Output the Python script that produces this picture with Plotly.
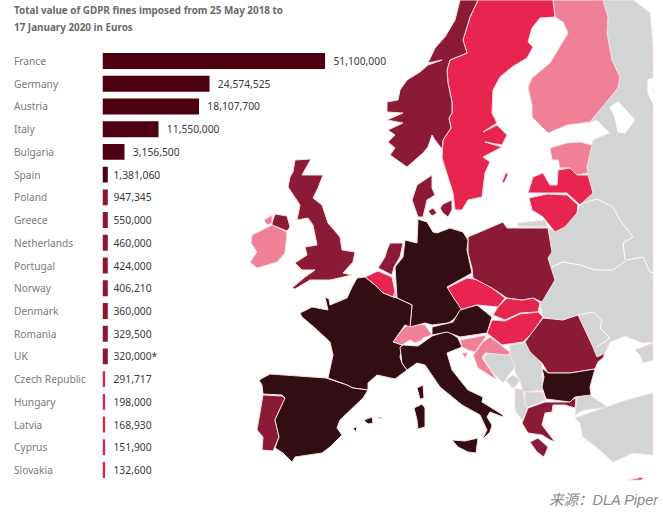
import plotly.graph_objects as go

# fines per country
countries = ["France", "Germany", "Austria", "Italy", "Bulgaria", "Spain", "Poland", "Greece",
             "Netherlands", "Portugal", "Norway", "Denmark", "Romania", "UK", "Czech Republic",
             "Hungary", "Latvia", "Cyprus", "Slovakia"]
fines = [51100000, 24574525, 18107700, 11550000, 3156500, 1381060, 947345, 550000,
         460000, 424000, 406210, 360000, 329500, 320000, 291717, 198000, 168930, 151900, 132600]
value_labels = ["51,100,000", "24,574,525", "18,107,700", "11,550,000", "3,156,500", "1,381,060",
                "947,345", "550,000", "460,000", "424,000", "406,210", "360,000", "329,500",
                "320,000*", "291,717", "198,000", "168,930", "151,900", "132,600"]
# the original's bars are not to scale with their labels: lengths as drawn, in the same euro units
drawn_fines = [51100000, 24574525, 22160000, 12860000, 5050000, 1217000, 1217000, 1217000,
               1217000, 1217000, 1217000, 1217000, 1217000, 1217000, 597000, 597000, 597000, 597000, 597000]

# country outlines (no topojson offline), in picture pixels
norway = [(460,0),(478,0),(470,17),(463,40),(467,53),(450,60),(447,70),(448,83),(452,102),(452,113),(449,118),(451,128),(443,140),(442,149),(435,140),(432,135),(428,147),(423,153),(407,167),(390,155),(395,148),(388,142),(395,135),(388,130),(403,123),(387,120),(403,113),(387,112),(387,102),(398,100),(400,90),(407,80),(420,72),(428,65),(442,60),(428,63),(435,48),(445,37),(455,20)]
sweden = [(478,0),(553,0),(555,17),(540,18),(532,28),(528,42),(533,47),(527,58),(512,67),(500,77),(493,90),(492,113),(497,123),(483,132),(497,125),(507,135),(502,145),(485,142),(502,147),(483,157),(490,162),(485,173),(482,197),(468,200),(462,210),(455,210),(453,193),(447,175),(442,158),(443,140),(451,128),(449,118),(452,113),(452,102),(448,83),(447,70),(450,60),(467,53),(463,40),(470,17)]
gotland = [(502,182),(506,172),(508,175),(504,183)]
finland = [(553,0),(603,0),(608,17),(607,33),(612,60),(620,77),(618,88),(600,110),(590,122),(567,125),(548,133),(532,117),(532,105),(528,87),(532,78),(550,63),(563,42),(568,33),(563,22),(555,17)]
estonia = [(550,148),(567,143),(580,142),(592,145),(587,167),(588,173),(577,175),(570,168),(560,168),(558,160),(552,160)]
latvia = [(528,193),(533,177),(543,173),(550,185),(557,185),(558,170),(570,168),(577,175),(588,175),(593,193),(580,205),(567,193),(547,193)]
lithuania = [(529,198),(547,194),(567,195),(578,205),(577,213),(565,227),(555,232),(543,217),(532,210)]
jutland = [(412,200),(417,185),(432,175),(432,188),(435,195),(427,200),(423,217),(418,217)]
zealand = [(440,208),(443,204),(452,200),(452,210),(448,217),(443,213)]
funen = [(428,211),(433,208),(437,213),(432,216)]
germany = [(418,219),(427,222),(433,232),(437,233),(450,228),(463,232),(468,240),(467,250),(472,273),(447,287),(455,300),(462,310),(453,320),(448,323),(432,325),(425,323),(410,327),(412,305),(397,298),(395,267),(403,257),(405,240),(417,243)]
netherlands = [(390,243),(403,243),(400,257),(394,267),(392,275),(378,268),(385,257),(387,250)]
belgium = [(365,277),(378,271),(392,277),(395,292),(393,297),(383,293),(375,285)]
luxembourg = [(392,292),(396,292),(396,297),(393,297)]
france = [(357,278),(365,277),(375,285),(383,293),(393,297),(397,298),(412,305),(410,327),(405,325),(393,342),(402,345),(400,357),(402,363),(407,370),(395,379),(377,375),(368,383),(368,390),(353,388),(347,385),(328,378),(333,355),(330,342),(315,328),(302,317),(300,313),(312,307),(328,310),(325,297),(329,299),(330,305),(347,298),(352,287)]
spain = [(259,380),(270,374),(326,378),(347,385),(353,388),(368,390),(363,398),(340,420),(337,428),(342,435),(330,447),(322,453),(295,457),(292,462),(283,453),(275,448),(279,437),(275,420),(285,398),(282,395),(263,394),(262,385)]
portugal = [(263,395),(282,396),(285,398),(275,420),(279,437),(273,451),(262,450),(263,437),(257,430)]
mallorca = [(364,420),(372,417),(373,423),(368,424)]
menorca = [(377,417),(381,417),(382,419),(378,418)]
ibiza = [(353,428),(357,427),(356,432)]
corsica = [(417,388),(423,385),(424,398),(420,399)]
sardinia = [(414,408),(422,404),(425,408),(425,427),(418,429),(417,420)]
sicily = [(452,440),(465,441),(478,438),(476,453),(468,452),(458,447)]
italy = [(400,347),(403,345),(418,346),(432,336),(448,331),(458,338),(462,347),(447,353),(452,370),(468,390),(483,397),(482,402),(503,415),(503,417),(490,412),(487,417),(492,425),(490,432),(482,440),(487,430),(480,415),(462,405),(440,387),(425,365),(417,363),(407,370),(402,363)]
switzerland = [(393,342),(402,330),(410,323),(425,325),(432,335),(423,338),(422,340),(415,343),(410,340),(402,345)]
austria = [(432,327),(453,322),(460,310),(477,305),(492,317),(487,333),(460,337),(447,332),(432,335)]
czechia = [(447,288),(467,278),(480,280),(492,288),(505,298),(498,307),(477,305),(460,310),(453,303)]
poland = [(468,237),(503,222),(507,228),(548,228),(552,252),(548,258),(555,280),(542,302),(533,298),(522,300),(507,298),(492,288),(473,278),(472,268),(468,253)]
slovakia = [(507,298),(522,300),(533,298),(540,303),(538,312),(520,313),(505,320),(493,315),(498,307)]
hungary = [(492,320),(505,321),(520,314),(538,312),(543,317),(533,332),(523,342),(502,345),(487,333)]
slovenia = [(460,340),(487,335),(482,342),(475,352),(468,350),(462,347)]
istria = [(462,353),(468,353),(465,358)]
croatia = [(475,353),(482,343),(490,337),(510,352),(508,355),(485,353),(482,358),(497,380),(478,368),(473,355)]
romania = [(525,342),(543,318),(563,320),(578,315),(593,347),(597,357),(605,353),(603,358),(598,362),(595,369),(570,373),(548,373),(542,363),(530,352)]
bulgaria = [(542,368),(548,373),(570,373),(595,369),(590,387),(591,395),(575,397),(570,402),(546,399),(542,387),(544,377)]
greece = [(528,408),(545,402),(567,402),(576,398),(575,408),(565,405),(553,405),(552,412),(545,413),(542,425),(555,442),(550,440),(542,435),(528,433),(522,423)]
peloponnese = [(530,442),(538,438),(548,447),(544,457),(537,452)]
cyprus = [(628,480),(643,477),(642,480)]
ireland = [(252,235),(265,228),(272,225),(287,232),(285,253),(277,262),(257,268),(250,262),(257,252),(251,243)]
donegal = [(264,220),(272,215),(272,223),(267,225)]
n_ireland = [(272,223),(275,214),(287,216),(290,227),(287,231),(272,225)]
britain = [(295,160),(311,159),(302,175),(323,175),(318,188),(313,198),(322,205),(328,223),(340,237),(342,250),(355,252),(353,262),(343,273),(352,275),(330,280),(310,280),(295,289),(292,288),(305,277),(315,270),(302,270),(295,263),(307,255),(305,247),(317,245),(313,225),(308,218),(297,220),(300,205),(288,187),(290,177),(293,172)]
bosnia = [(483,357),(490,353),(510,354),(515,367),(507,377),(503,383),(493,373)]
serbia = [(510,345),(525,343),(542,363),(542,377),(544,390),(523,392),(520,380),(515,372),(515,366),(510,354)]
montenegro = [(506,380),(513,375),(520,380),(515,387),(512,388)]
albania = [(515,388),(523,390),(525,405),(528,408),(522,420),(515,410)]
macedonia = [(525,392),(543,392),(545,400),(528,407),(525,405)]
thrace = [(577,397),(590,395),(607,407),(583,410),(575,415)]
anatolia = [(575,418),(603,408),(627,400),(653,393),(653,455),(633,453),(613,462),(600,450),(583,437),(580,423)]
crimea = [(635,350),(653,343),(653,360),(643,363),(640,355)]
kaliningrad = [(518,223),(545,220),(547,227),(518,226)]
east_europe = [(603,0),(633,0),(650,13),(653,47),(653,342),(643,343),(625,336),(610,342),(605,353),(597,357),(593,347),(578,315),(563,320),(543,317),(540,303),(555,280),(548,258),(552,252),(548,228),(555,232),(565,227),(577,213),(580,205),(593,193),(588,175),(587,167),(592,145),(593,140),(610,133),(597,120),(590,122),(600,110),(618,88),(620,77),(612,60),(607,33),(608,17)]
ladoga = [(610,107),(618,102),(635,120),(625,133),(618,132),(615,117)]
onega = [(648,80),(653,78),(653,103),(648,93)]

# borders inside the grey block
belarus_north = [(578,205),(597,199),(613,207),(620,220),(633,237),(623,243),(625,260)]
belarus_south = [(552,267),(563,262),(580,265),(595,270),(613,270),(627,260),(643,257),(650,272),(653,273)]
moldova = [(578,315),(593,312),(602,320),(600,328),(610,338),(597,347)]

DARK = "#330d14"
MID = "#8b1a36"
BRIGHT = "#e8254f"
PINK = "#ef8098"
GREY = "#d3d4d6"
BORDER = "#f7dfe2"

map_groups = [
    (GREY, [east_europe, kaliningrad, anatolia, thrace, crimea, bosnia, serbia, montenegro, albania, macedonia]),
    (PINK, [finland, estonia, switzerland, luxembourg, slovenia, istria, croatia, ireland, donegal]),
    (BRIGHT, [sweden, gotland, latvia, lithuania, belgium, czechia, slovakia, hungary, cyprus]),
    (MID, [norway, jutland, zealand, funen, netherlands, poland, romania, greece, peloponnese, portugal, britain, n_ireland]),
    (DARK, [germany, france, spain, mallorca, menorca, ibiza, corsica, sardinia, sicily, italy, austria, bulgaria]),
]


def bar_color(value):
    if value >= 1000000:
        return "#4d0011"
    if value >= 300000:
        return "#8f1533"
    return "#e0234e"


fig = go.Figure()

for color, shapes in map_groups:
    for shape in shapes:
        fig.add_trace(go.Scatter(
            x=[p[0] for p in shape] + [shape[0][0]],
            y=[p[1] for p in shape] + [shape[0][1]],
            mode="lines", fill="toself", fillcolor=color,
            line=dict(color=BORDER, width=1), xaxis="x2", yaxis="y2", hoverinfo="skip",
        ))

for lake in [ladoga, onega]:
    fig.add_trace(go.Scatter(
        x=[p[0] for p in lake] + [lake[0][0]], y=[p[1] for p in lake] + [lake[0][1]],
        mode="lines", fill="toself", fillcolor="white", line=dict(color="white", width=1),
        xaxis="x2", yaxis="y2", hoverinfo="skip",
    ))

for border in [belarus_north, belarus_south, moldova]:
    fig.add_trace(go.Scatter(
        x=[p[0] for p in border], y=[p[1] for p in border], mode="lines",
        line=dict(color="white", width=1), xaxis="x2", yaxis="y2", hoverinfo="skip",
    ))

# short bars get a narrower gap before the label, as in the original
bar_text = [(" " if d == 1217000 else "  ") + t for d, t in zip(drawn_fines, value_labels)]

fig.add_trace(go.Bar(
    x=drawn_fines, y=countries, orientation="h", width=0.7,
    marker=dict(color=[bar_color(v) for v in fines], line=dict(width=0)),
    text=bar_text, textposition="outside", cliponaxis=False,
    textfont=dict(family="Noto Sans", size=10.3, color="#3a3a3a"),
    xaxis="x", yaxis="y",
))

annotations = [
    dict(text=name, x=12 / 663, xref="paper", y=name, yref="y", xanchor="left", showarrow=False,
         font=dict(family="Noto Sans", size=10.2, color="#7a7a7a"))
    for name in countries
]
annotations += [
    dict(text="<b>Total value of GDPR fines imposed from 25 May 2018 to</b>", x=12 / 663, y=1 - 10 / 515,
         xref="paper", yref="paper", xanchor="left", yanchor="middle", showarrow=False,
         font=dict(family="Noto Sans", size=9.9, color="#6a6a6a")),
    dict(text="<b>17 January 2020 in Euros</b>", x=12 / 663, y=1 - 27 / 515,
         xref="paper", yref="paper", xanchor="left", yanchor="middle", showarrow=False,
         font=dict(family="Noto Sans", size=9.9, color="#6a6a6a")),
    dict(text="<i>来源：DLA Piper</i>", x=661 / 663, y=1 - 500 / 515,
         xref="paper", yref="paper", xanchor="right", yanchor="middle", showarrow=False,
         font=dict(family="Liberation Sans, Noto Sans CJK SC", size=14.5, color="#8a8a8a")),
]

fig.update_layout(
    width=663, height=515, margin=dict(l=0, r=0, t=0, b=0),
    paper_bgcolor="white", plot_bgcolor="rgba(0,0,0,0)", showlegend=False,
    annotations=annotations,
    xaxis=dict(domain=[102.5 / 663, 1], range=[0, 128700000], visible=False),
    yaxis=dict(domain=[0, 1], range=[19.98, -2.685], visible=False, type="category",
               categoryorder="array", categoryarray=countries),
    xaxis2=dict(domain=[0, 1], range=[0, 663], visible=False, anchor="y2"),
    yaxis2=dict(domain=[0, 1], range=[515, 0], visible=False, anchor="x2"),
)

fig.write_html("out.html", post_script="document.body.style.margin='0';",
               config={"displayModeBar": False})
